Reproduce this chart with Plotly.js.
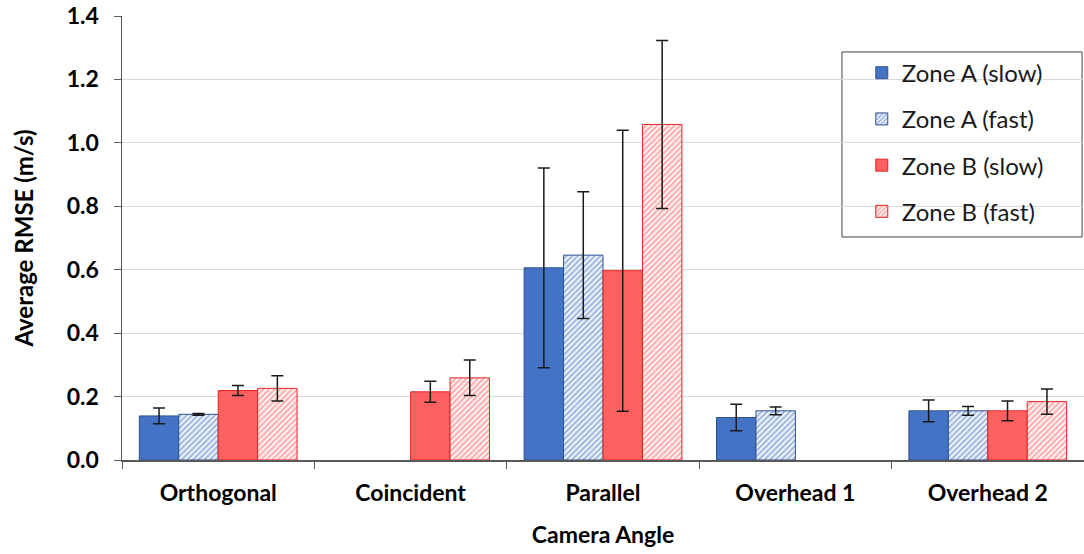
<!DOCTYPE html>
<html>
<head>
<meta charset="utf-8">
<script src="https://cdn.plot.ly/plotly-3.0.1.min.js"></script>
<style>html,body{margin:0;padding:0;background:#fff;}#chart{width:1084px;height:554px;}</style>
</head>
<body>
<div id="chart"></div>
<script>
const categories = ["Orthogonal", "Coincident", "Parallel", "Overhead 1", "Overhead 2"];
const seriesNames = ["Zone A (slow)", "Zone A (fast)", "Zone B (slow)", "Zone B (fast)"];
const zoneASlow = [0.139, null, 0.606, 0.134, 0.155];
const zoneASlowErr = [0.025, null, 0.315, 0.042, 0.034];
const zoneAFast = [0.144, null, 0.646, 0.155, 0.155];
const zoneAFastErr = [0.003, null, 0.200, 0.012, 0.014];
const zoneBSlow = [0.219, 0.215, 0.597, null, 0.155];
const zoneBSlowErr = [0.016, 0.033, 0.443, null, 0.031];
const zoneBFast = [0.226, 0.259, 1.058, null, 0.184];
const zoneBFastErr = [0.040, 0.056, 0.265, null, 0.040];

const BLUE = "#4472C4", BLUE_EDGE = "#2F528F";
const RED = "#FF6161", RED_EDGE = "#E02424";
const FONT = "Lato, 'Open Sans', sans-serif";

function mk(name, y, err, color, edge, hatched, group) {
  const marker = {color: color, line: {color: edge, width: 1}};
  if (hatched) {
    marker.color = "#ffffff";
    marker.pattern = {shape: "/", fgcolor: color, bgcolor: "#ffffff", size: 4, solidity: 0.6, fillmode: "overlay"};
  }
  return {
    type: "bar", name: name, x: categories, y: y,
    marker: marker, legendgroup: group,
    error_y: {type: "data", array: err, visible: true, color: "#1a1a1a", thickness: 1.5, width: 6},
    hoverinfo: "x+y+name"
  };
}

const data = [
  mk(seriesNames[0], zoneASlow, zoneASlowErr, BLUE, BLUE_EDGE, false, "g1"),
  mk(seriesNames[1], zoneAFast, zoneAFastErr, BLUE, BLUE_EDGE, true, "g2"),
  mk(seriesNames[2], zoneBSlow, zoneBSlowErr, RED, RED_EDGE, false, "g3"),
  mk(seriesNames[3], zoneBFast, zoneBFastErr, RED, RED_EDGE, true, "g4")
];

const layout = {
  width: 1084, height: 554,
  margin: {l: 122, r: 0, t: 16, b: 94},
  paper_bgcolor: "#ffffff", plot_bgcolor: "#ffffff",
  barmode: "group", bargap: 0.18, bargroupgap: 0,
  font: {family: FONT, size: 19, color: "#000000"},
  showlegend: true,
  legend: {
    x: 0.769, y: 0.922, xanchor: "left", yanchor: "top",
    borderwidth: 0, bgcolor: "rgba(0,0,0,0)",
    font: {family: FONT, size: 24, color: "#1a1a1a"},
    tracegroupgap: 12, traceorder: "grouped"
  },
  shapes: [{
    type: "rect", xref: "paper", yref: "paper",
    x0: 0.7484, x1: 0.998, y0: 0.5023, y1: 0.919,
    line: {color: "#404040", width: 1}, fillcolor: "rgba(255,255,255,1)", layer: "below"
  }],
  xaxis: {
    type: "category",
    showline: true, linecolor: "#595959", linewidth: 1.5,
    ticks: "outside", tickson: "boundaries", ticklen: 7, tickcolor: "#595959",
    ticklabelstandoff: 12,
    tickfont: {family: FONT, size: 23, color: "#000000", weight: "bold"},
    title: {text: "<b>Camera Angle</b>", font: {family: FONT, size: 23, color: "#000000"}, standoff: 22},
    showgrid: false, zeroline: false
  },
  yaxis: {
    range: [0, 1.4], dtick: 0.2, tickformat: ".1f",
    showline: true, linecolor: "#595959", linewidth: 1.5,
    ticks: "outside", ticklen: 7, tickcolor: "#595959",
    ticklabelstandoff: 10,
    showgrid: true, gridcolor: "#D9D9D9", gridwidth: 1, zeroline: false,
    tickfont: {family: FONT, size: 23, color: "#000000", weight: "bold"},
    title: {text: "<b>Average RMSE (m/s)</b>", font: {family: FONT, size: 24, color: "#000000"}, standoff: 26}
  }
};

Plotly.newPlot("chart", data, layout, {displayModeBar: false, staticPlot: true});
</script>
</body>
</html>
